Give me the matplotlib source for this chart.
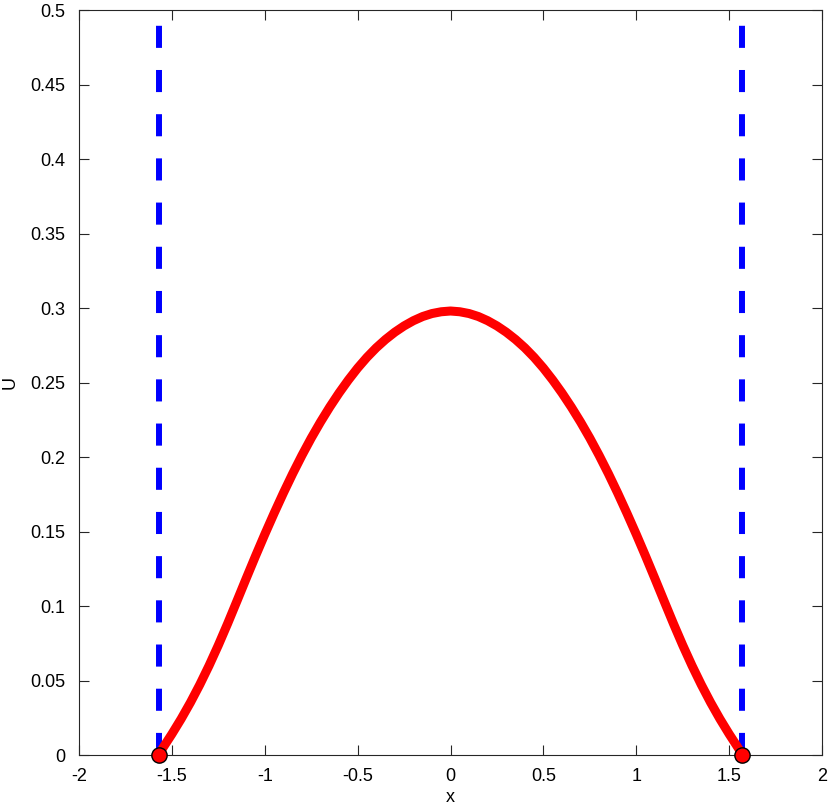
import matplotlib
matplotlib.use("Agg")
import matplotlib.pyplot as plt

# curve values (symmetric about x = 0)
x_half = [0.00, 0.05, 0.10, 0.15, 0.20, 0.25, 0.30, 0.35, 0.40, 0.45,
          0.50, 0.55, 0.60, 0.65, 0.70, 0.75, 0.80, 0.85, 0.90, 0.95,
          1.00, 1.05, 1.10, 1.15, 1.20, 1.25, 1.30, 1.35, 1.40, 1.45,
          1.50, 1.55, 1.5708]
u_half = [0.2980, 0.2975, 0.2963, 0.2943, 0.2915, 0.2880, 0.2838, 0.2789,
          0.2733, 0.2669, 0.2597, 0.2517, 0.2430, 0.2336, 0.2235, 0.2127,
          0.2011, 0.1888, 0.1758, 0.1622, 0.1481, 0.1335, 0.1185, 0.1033,
          0.0882, 0.0737, 0.0600, 0.0472, 0.0353, 0.0243, 0.0141, 0.0045,
          0.0]

walls = [-1.5708, 1.5708]
wall_top = 0.5

x_ticks = [-2, -1.5, -1, -0.5, 0, 0.5, 1, 1.5, 2]
x_labels = ["-2", "-1.5", "-1", "-0.5", "0", "0.5", "1", "1.5", "2"]
y_ticks = [0, 0.05, 0.1, 0.15, 0.2, 0.25, 0.3, 0.35, 0.4, 0.45, 0.5]
y_labels = ["0", "0.05", "0.1", "0.15", "0.2", "0.25", "0.3", "0.35", "0.4", "0.45", "0.5"]

x_curve = [-v for v in x_half[:0:-1]] + x_half
u_curve = u_half[:0:-1] + u_half

plt.rcParams["font.family"] = ["Liberation Sans", "DejaVu Sans"]

fig = plt.figure(figsize=(8.3, 8.09), dpi=100)
ax = fig.add_axes([0.0952, 0.0667, 0.8952, 0.9209])

for w in walls:
    ax.plot([w, w], [0, wall_top], color="#0000ff", lw=4.3,
            linestyle=(0, (3.7, 3.7)), solid_capstyle="butt",
            dash_capstyle="butt", zorder=2)

ax.plot(x_curve, u_curve, color="#ff0000", lw=6.5, solid_capstyle="round",
        solid_joinstyle="round", zorder=3)
ax.plot(walls, [0, 0], linestyle="none", marker="o", markersize=11,
        markerfacecolor="#ff0000", markeredgecolor="black", markeredgewidth=1,
        zorder=4, clip_on=False)

ax.set_xlim(-2, 2)
ax.set_ylim(0, 0.5)
ax.set_xticks(x_ticks)
ax.set_xticklabels(x_labels)
ax.set_yticks(y_ticks)
ax.set_yticklabels(y_labels)
ax.tick_params(direction="in", length=7, width=0.8, color="0.15",
               top=True, right=True, labelsize=13)
ax.tick_params(axis="x", pad=9)
ax.tick_params(axis="y", pad=10)
for s in ax.spines.values():
    s.set_color("0.15")
    s.set_linewidth(0.8)

ax.set_xlabel("x", fontsize=13, labelpad=3)
ax.set_ylabel("U", fontsize=13, labelpad=8)

fig.savefig("out.png", dpi=100)
